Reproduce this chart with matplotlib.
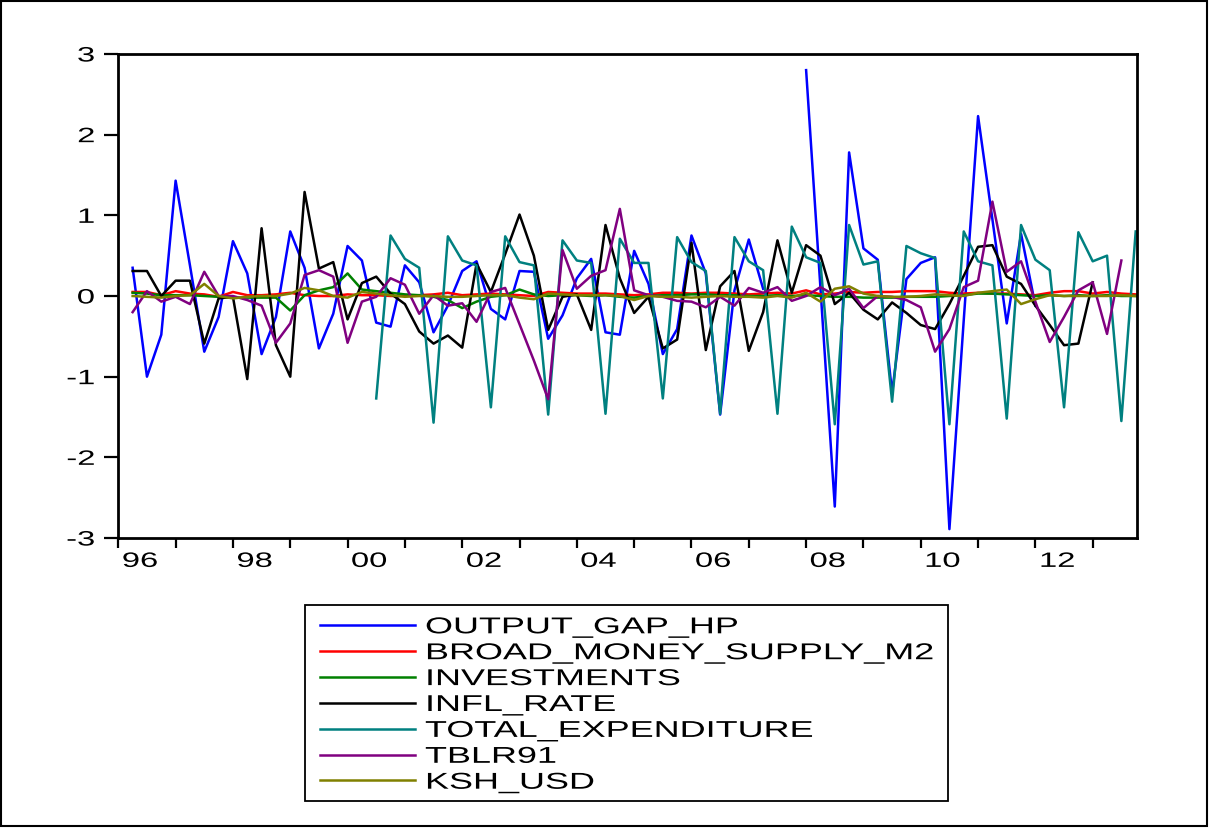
import numpy as np
import matplotlib
matplotlib.use("Agg")
import matplotlib.pyplot as plt
from matplotlib.lines import Line2D
from matplotlib.patches import Rectangle
from matplotlib.patheffects import AbstractPathEffect
from matplotlib.transforms import Affine2D

plt.rcParams['font.family'] = ['Liberation Sans', 'DejaVu Sans']
plt.rcParams['axes.unicode_minus'] = False

nan = np.nan

# quarterly data, index 0 = 1996Q1 ... 71 = 2013Q4
output_gap_hp = [nan, 0.35, -1.00, -0.48, 1.43, 0.38, -0.69, -0.26, 0.68, 0.28, -0.72, -0.26,
                 0.80, 0.35, -0.65, -0.22, 0.62, 0.44, -0.33, -0.38, 0.38, 0.17, -0.45, -0.12,
                 0.31, 0.43, -0.16, -0.29, 0.31, 0.30, -0.53, -0.24, 0.22, 0.46, -0.45, -0.48,
                 0.56, 0.15, -0.72, -0.41, 0.75, 0.28, -1.47, 0.07, 0.70, 0.09, nan, nan,
                 2.80, 0.10, -2.61, 1.78, 0.59, 0.45, -1.20, 0.21, 0.41, 0.48, -2.89, -0.30,
                 2.23, 0.95, -0.34, 0.77, -0.12, nan, nan, nan, nan, nan, nan, nan]
broad_money_m2 = [nan, 0.05, 0.05, 0.01, 0.06, 0.03, 0.02, -0.01, 0.05, 0.01, 0.01, 0.02,
                  0.04, 0.01, 0.00, 0.00, 0.02, 0.01, 0.01, 0.00, 0.00, 0.01, 0.02, 0.04,
                  0.01, 0.02, 0.03, 0.02, 0.01, 0.00, 0.05, 0.04, 0.03, 0.03, 0.03, 0.02,
                  0.01, 0.02, 0.04, 0.04, 0.03, 0.04, 0.04, 0.03, 0.02, 0.03, 0.04, 0.03,
                  0.07, 0.02, 0.03, 0.05, 0.04, 0.05, 0.05, 0.06, 0.06, 0.06, 0.04, 0.03,
                  0.04, 0.03, 0.03, 0.02, 0.01, 0.04, 0.06, 0.06, 0.03, 0.05, 0.03, 0.02]
investments = [nan, 0.04, 0.03, 0.01, 0.01, 0.01, 0.00, -0.01, -0.02, -0.02, -0.02, -0.02,
               -0.18, 0.01, 0.07, 0.11, 0.28, 0.08, 0.06, 0.04, 0.02, 0.01, -0.01, -0.05,
               -0.15, -0.07, -0.01, 0.01, 0.08, 0.02, 0.00, 0.01, 0.01, 0.00, 0.01, -0.01,
               -0.02, 0.00, 0.01, 0.01, 0.02, 0.02, 0.01, 0.01, 0.00, 0.00, 0.01, 0.00,
               0.01, 0.00, -0.01, -0.01, -0.02, -0.02, -0.02, -0.01, -0.01, -0.01, 0.00, 0.01,
               0.03, 0.03, 0.02, 0.01, 0.00, 0.01, 0.00, 0.01, 0.00, 0.01, 0.00, 0.00]
infl_rate = [nan, 0.31, 0.31, 0.00, 0.19, 0.19, -0.59, -0.03, -0.01, -1.03, 0.84, -0.61,
             -1.00, 1.29, 0.34, 0.42, -0.29, 0.16, 0.24, 0.03, -0.10, -0.44, -0.59, -0.49,
             -0.64, 0.40, 0.05, 0.52, 1.01, 0.50, -0.42, -0.01, 0.02, -0.42, 0.88, 0.22,
             -0.21, -0.01, -0.65, -0.54, 0.66, -0.67, 0.12, 0.31, -0.68, -0.20, 0.69, 0.04,
             0.63, 0.50, -0.10, 0.04, -0.17, -0.29, -0.08, -0.21, -0.36, -0.41, -0.10, 0.25,
             0.61, 0.63, 0.24, 0.15, -0.12, -0.36, -0.61, -0.59, 0.17, nan, nan, nan]
total_expenditure = [nan, nan, nan, nan, nan, nan, nan, nan, nan, nan, nan, nan,
                     nan, nan, nan, nan, nan, nan, -1.27, 0.75, 0.46, 0.35, -1.57, 0.74,
                     0.44, 0.38, -1.38, 0.74, 0.42, 0.38, -1.47, 0.69, 0.44, 0.41, -1.46, 0.71,
                     0.41, 0.41, -1.27, 0.73, 0.42, 0.31, -1.46, 0.73, 0.43, 0.32, -1.46, 0.86,
                     0.48, 0.41, -1.59, 0.88, 0.39, 0.43, -1.31, 0.62, 0.53, 0.47, -1.59, 0.80,
                     0.43, 0.38, -1.52, 0.88, 0.45, 0.32, -1.38, 0.79, 0.43, 0.50, -1.55, 0.80]
tblr91 = [nan, -0.20, 0.06, -0.07, -0.01, -0.10, 0.30, 0.00, 0.00, -0.05, -0.12, -0.58,
          -0.34, 0.26, 0.32, 0.24, -0.58, -0.07, -0.01, 0.22, 0.14, -0.22, 0.01, -0.12,
          -0.09, -0.32, 0.05, 0.10, -0.35, -0.80, -1.28, 0.57, 0.09, 0.25, 0.32, 1.08,
          0.07, 0.01, -0.01, -0.06, -0.07, -0.14, -0.01, -0.12, 0.10, 0.04, 0.11, -0.06,
          0.00, 0.11, 0.01, 0.09, -0.15, 0.00, -0.01, -0.05, -0.14, -0.69, -0.41, 0.11,
          0.19, 1.17, 0.30, 0.43, -0.07, -0.57, -0.26, 0.07, 0.17, -0.47, 0.44, nan]
ksh_usd = [nan, 0.00, -0.01, -0.02, 0.00, 0.01, 0.15, 0.00, -0.03, -0.01, 0.00, 0.00,
           0.03, 0.10, 0.07, 0.00, -0.02, 0.05, 0.03, 0.01, -0.01, 0.00, 0.00, -0.01,
           -0.01, 0.00, 0.01, 0.01, -0.02, -0.04, 0.03, 0.02, 0.01, 0.01, 0.01, 0.00,
           -0.05, 0.00, -0.01, -0.01, -0.02, -0.01, 0.00, -0.01, -0.01, -0.02, 0.00, -0.02,
           0.04, -0.07, 0.09, 0.12, 0.03, 0.00, -0.01, -0.01, 0.00, 0.02, 0.01, 0.00,
           0.04, 0.06, 0.08, -0.10, -0.04, 0.01, 0.00, 0.00, 0.00, 0.00, 0.01, 0.00]

names = ['OUTPUT_GAP_HP', 'BROAD_MONEY_SUPPLY_M2', 'INVESTMENTS', 'INFL_RATE',
         'TOTAL_EXPENDITURE', 'TBLR91', 'KSH_USD']
series = [output_gap_hp, broad_money_m2, investments, infl_rate,
          total_expenditure, tblr91, ksh_usd]
colors = ['#0000ff', '#ff0000', '#008000', '#000000', '#008080', '#800080', '#808000']

year_labels = ['96', '98', '00', '02', '04', '06', '08', '10', '12']


# EViews draws its text wide, so stretch glyphs horizontally
class StretchX(AbstractPathEffect):
    def __init__(self, sx, anchor=0.0):
        super().__init__()
        self.sx = sx
        self.anchor = anchor

    def draw_path(self, renderer, gc, tpath, affine, rgbFace=None):
        w = tpath.get_extents().x1 * self.anchor
        pre = Affine2D().translate(-w, 0).scale(self.sx, 1).translate(w, 0)
        renderer.draw_path(gc, tpath, pre + affine, rgbFace)


W, H = 1214, 829
fig = plt.figure(figsize=(W / 100, H / 100), dpi=100)
ax = fig.add_axes([118.3 / W, 1 - 539 / H, (1136.7 - 118.3) / W, (539 - 55) / H])

x = np.arange(len(output_gap_hp))
for vals, c in zip(series, colors):
    ax.plot(x, vals, color=c, lw=1.8)

ax.set_xlim(0, 71.07)
ax.set_ylim(-3, 3)

# year ticks at every Q1, labels centred on every second year
ax.set_xticks(np.arange(0, 72, 4), [''] * 18)
ax.set_xticks(np.arange(0, 72, 8) + 1.5, year_labels, minor=True)
ax.set_yticks(np.arange(-3, 4, 1))
ax.tick_params(axis='x', which='major', direction='out', length=7.2, width=1.6)
ax.tick_params(axis='x', which='minor', length=0, pad=10, labelsize=15)
ax.tick_params(axis='y', direction='out', length=10, width=1.6, pad=7, labelsize=15)
for s in ax.spines.values():
    s.set_linewidth(2.0)

for lab in ax.get_yticklabels():
    lab.set_path_effects([StretchX(1.57, 1.0)])
for lab in ax.get_xticklabels(minor=True):
    lab.set_path_effects([StretchX(1.57, 0.5)])


# legend box drawn by hand in figure pixels
def fx(px):
    return px / W


def fy(py):
    return 1 - py / H


fig.add_artist(Rectangle((fx(305), fy(802)), fx(948) - fx(305), fy(606) - fy(802),
                         transform=fig.transFigure, fill=False, ec='black', lw=1.3))
for k, (name, c) in enumerate(zip(names, colors)):
    row = 626 + 25.9 * k
    fig.add_artist(Line2D([fx(320), fx(415)], [fy(row), fy(row)],
                          transform=fig.transFigure, color=c, lw=1.8))
    fig.text(fx(425), fy(row + 8.3), name, ha='left', va='baseline', fontsize=16.5,
             path_effects=[StretchX(1.57, 0.0)])

# outer frame
fig.add_artist(Rectangle((fx(1), fy(827)), fx(1207) - fx(1), fy(2) - fy(827),
                         transform=fig.transFigure, fill=False, ec='black', lw=1.5))

fig.savefig('out.png', dpi=100)
